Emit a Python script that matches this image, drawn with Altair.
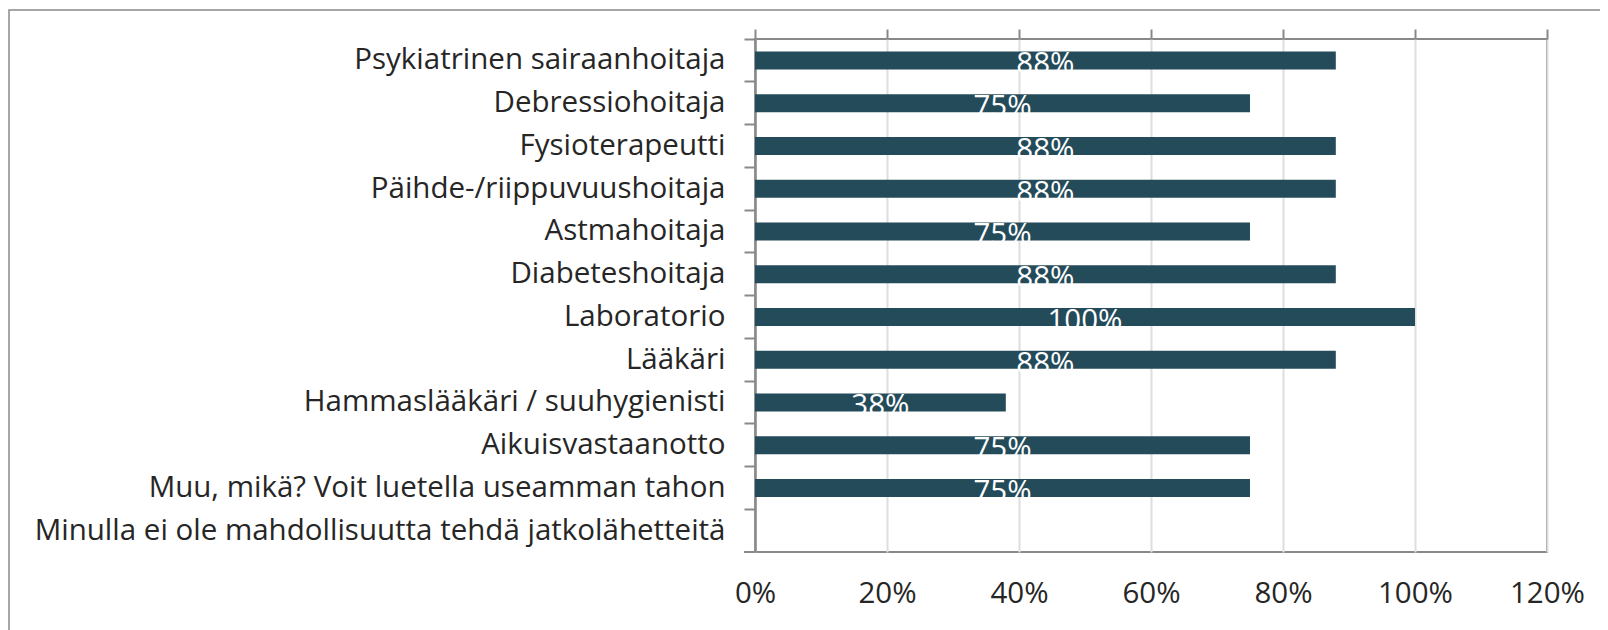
import altair as alt
import pandas as pd

categories = [
    "Psykiatrinen sairaanhoitaja",
    "Debressiohoitaja",
    "Fysioterapeutti",
    "Päihde-/riippuvuushoitaja",
    "Astmahoitaja",
    "Diabeteshoitaja",
    "Laboratorio",
    "Lääkäri",
    "Hammaslääkäri / suuhygienisti",
    "Aikuisvastaanotto",
    "Muu, mikä? Voit luetella useamman tahon",
    "Minulla ei ole mahdollisuutta tehdä jatkolähetteitä",
]
values = [0.88, 0.75, 0.88, 0.88, 0.75, 0.88, 1.00, 0.88, 0.38, 0.75, 0.75, 0.0]
x_ticks = [0, 0.2, 0.4, 0.6, 0.8, 1.0, 1.2]

df = pd.DataFrame({"cat": categories, "value": values})

FONT = "Open Sans"
FS = 29.5
TXT = "#262626"
GRAY = "#898989"
BAR = "#244B5A"

xscale = alt.Scale(domain=[0, 1.2], nice=False, zero=True)
yscale = alt.Scale(paddingInner=0, paddingOuter=0)

yenc = alt.Y(
    "cat:N",
    sort=categories,
    scale=yscale,
    title=None,
    axis=alt.Axis(
        bandPosition=0,
        tickSize=11,
        tickColor=GRAY,
        tickWidth=2,
        domainColor=GRAY,
        domainWidth=2.5,
        labelPadding=19,
        labelFont=FONT,
        labelFontSize=FS,
        labelColor=TXT,
        labelLimit=1000,
    ),
)

bars = alt.Chart(df).mark_bar(size=18, color=BAR).encode(
    x=alt.X(
        "value:Q",
        scale=xscale,
        title=None,
        axis=alt.Axis(
            orient="bottom",
            values=x_ticks,
            format=".0%",
            ticks=False,
            domain=False,
            grid=True,
            gridColor="#dedede",
            gridWidth=2,
            labelFlush=False,
            labelOverlap=False,
            labelPadding=27,
            labelFont=FONT,
            labelFontSize=FS,
            labelColor=TXT,
        ),
    ),
    y=yenc,
)

labels = (
    alt.Chart(df)
    .transform_filter("datum.value > 0")
    .transform_calculate(mid="datum.value / 2")
    .mark_text(color="white", font=FONT, fontSize=FS, baseline="alphabetic", dy=13, align="center")
    .encode(
        x=alt.X(
            "mid:Q",
            scale=xscale,
            title=None,
            axis=alt.Axis(
                orient="top",
                values=x_ticks,
                labels=False,
                domain=False,
                grid=False,
                ticks=True,
                tickSize=10,
                tickColor=GRAY,
                tickWidth=2,
            ),
        ),
        y=alt.Y("cat:N", sort=categories, scale=yscale, title=None),
        text=alt.Text("value:Q", format=".0%"),
    )
)

bottom_tick = alt.Chart(df).mark_rule(color=GRAY, strokeWidth=2).encode(
    x=alt.value(-11), x2=alt.value(0), y=alt.value(513)
).transform_filter("datum.value > 0.99")

frame = alt.Chart(df).mark_rect(fill=None, stroke=GRAY, strokeWidth=1.5).encode(
    x=alt.value(-746), x2=alt.value(900), y=alt.value(-29), y2=alt.value(700)
).transform_filter("datum.value > 0.99")

chart = (
    alt.layer(frame, bars, labels, bottom_tick)
    .resolve_axis(x="independent")
    .properties(
        width=792,
        height=513,
        padding={"left": 747, "top": 31, "right": 53, "bottom": 78},
        autosize=alt.AutoSizeParams(type="none"),
    )
    .configure(background="white")
    .configure_view(stroke=GRAY, strokeWidth=2)
)

chart.save("out.html", embed_options={"renderer": "svg", "actions": False})
